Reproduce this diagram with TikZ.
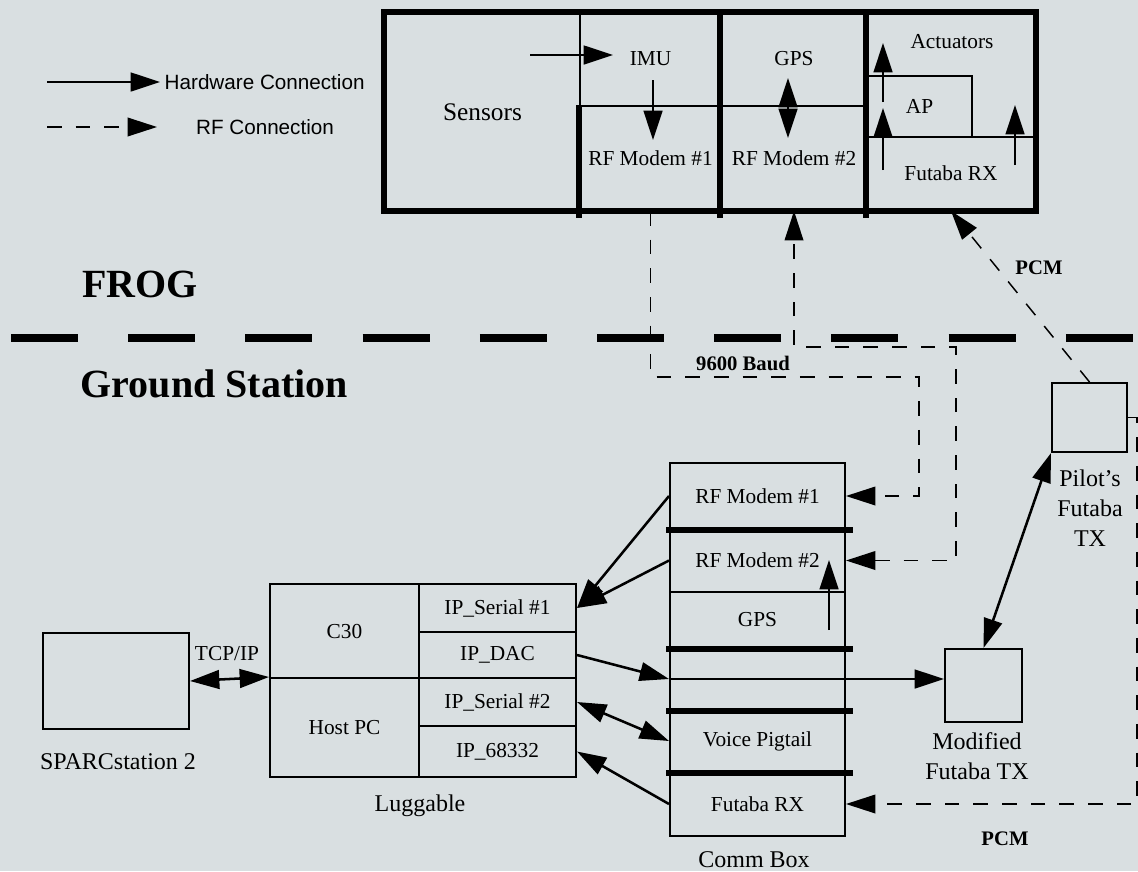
\documentclass[tikz,border=0pt]{standalone}
\usepackage{fontspec}
\setmainfont{Liberation Serif}
\newfontfamily\legendfont{Liberation Sans}
\usetikzlibrary{arrows.meta, calc, positioning}

\definecolor{paper}{RGB}{217,223,225}

\begin{document}
\begin{tikzpicture}[x=0.75pt, y=-0.75pt, font=\fontsize{16}{22.5}\selectfont,
  >={Triangle[length=22pt,width=14pt]},
  cell/.style 2 args={draw, line width=1.5pt, inner sep=0pt, minimum width=#1*0.75pt, minimum height=#2*0.75pt},
  wall/.style={line width=3.8pt},
  bar/.style={line width=4.5pt},
  hw/.style={->, line width=1.9pt},
  rf/.style={->, line width=1.1pt, dash pattern=on 11pt off 10.5pt},
  title/.style={font=\fontsize{30}{36}\selectfont\bfseries},
  tag/.style={font=\fontsize{15.5}{18}\selectfont\bfseries},
  caption/.style={font=\fontsize{18}{22.5}\selectfont, align=center},
  legend/.style={font=\legendfont\fontsize{15.5}{18}\selectfont}]
\fill[paper] (0,0) rectangle (1138,871);
\useasboundingbox (0,0) rectangle (1138,871);
%legend
\coordinate (lg1) at (47,82);
\coordinate (lg3) at (47,127);
\coordinate (lg4) at (157,127);
\node[legend, anchor=west] (lghw) at (160,82) {Hardware Connection};
\node[legend] (lgrf) at (265,127) {RF Connection};
\draw[hw] (lg1) -- (lghw.west);
\draw[rf] (lg3) -- (lg4);
% FROG
\node[cell={195}{198}, font=\fontsize{19}{22}\selectfont] (sensors) at (482.5,112) {Sensors};
\node[cell={141}{94}] (imu) at (650.5,59) {IMU};
\node[cell={141}{104}] (rfa) at (650.5,158) {RF Modem \#1};
\node[cell={146}{94}] (gps) at (794,59) {GPS};
\node[cell={146}{104}] (rfb) at (794,158) {RF Modem \#2};
\node[cell={168}{198}] (act) at (951,111) {};
\node (acttxt) at (952,42) {Actuators};
\node[cell={105}{61}] (ap) at (919.5,106.5) {AP};
\node[cell={168}{73}] (frx) at (951,173.5) {Futaba RX};
\draw[wall] (sensors.north west) rectangle (act.south east);
\draw[wall] (rfa.north west) -- ($(rfa.south west)+(0,7)$);
\draw[wall] (gps.north west) -- ($(rfb.south west)+(0,7)$);
\draw[wall] (act.north west) -- ($(act.south west)+(0,7)$);
\coordinate (s1) at (530,55); \coordinate (s2) at (613,55);
\coordinate (i1) at (653,80); \coordinate (i2) at (653,140);
\coordinate (g1) at (788,78); \coordinate (g2) at (788,138);
\coordinate (a1) at (883,102); \coordinate (a2) at (883,43);
\coordinate (a3) at (883,170); \coordinate (a4) at (883,108);
\coordinate (a5) at (1015,165); \coordinate (a6) at (1015,105);
\draw[hw] (s1) -- (s2);
\draw[hw] (i1) -- (i2);
\draw[hw, <->] (g1) -- (g2);
\draw[hw] (a1) -- (a2);
\draw[hw] (a3) -- (a4);
\draw[hw] (a5) -- (a6);
\node[title] (frog) at (140,284) {FROG};
\draw[line width=6pt, dash pattern=on 50.25pt off 37.65pt] (11,338) -- (1138,338);
\node[title, anchor=west] (ground) at (76,384) {Ground Station};
% ground station
\node[cell={146}{96}] (sparc) at (116,681) {};
\node[caption] (sparctxt) at (118,762) {SPARCstation 2};
\node[cell={149}{94}] (c30) at (344.5,631) {C30};
\node[cell={149}{99}] (hostpc) at (344.5,727.5) {Host PC};
\node[cell={157}{48}] (ips1) at (497.5,608) {IP\_Serial \#1};
\node[cell={157}{46}] (ipd) at (497.5,655) {IP\_DAC};
\node[cell={157}{48}] (ips2) at (497.5,702) {IP\_Serial \#2};
\node[cell={157}{51}] (ip68) at (497.5,751.5) {IP\_68332};
\node[caption] (lugtxt) at (420,806) {Luggable};
\node[cell={175}{66}] (cma) at (757.5,496) {RF Modem \#1};
\node[cell={175}{63}] (cmb) at (757.5,560.5) {RF Modem \#2};
\node[cell={175}{56}] (cmg) at (757.5,620) {GPS};
\node[cell={175}{62}] (cmd) at (757.5,679) {};
\node[cell={175}{62}] (cmv) at (757.5,741) {Voice Pigtail};
\node[cell={175}{64}] (cmf) at (757.5,804) {Futaba RX};
\foreach \c in {cma,cmg,cmd,cmv}
\draw[bar] ($(\c.south west)+(-3,0)$) -- ($(\c.south east)+(7,0)$);
\node[caption] (cmtxt) at (754,860) {Comm Box};
\node[cell={77}{73}] (mod) at (983.5,685.5) {};
\node[caption] (modtxt) at (977,756) {Modified\\Futaba TX};
\node[cell={75}{69}] (pilot) at (1089.5,417.5) {};
\node[caption] (pilottxt) at (1090,508) {Pilot's\\Futaba\\TX};
\coordinate (c1) at (829,630); \coordinate (c2) at (829,560);
\draw[hw] (c1) -- (c2);
% connections
\draw[hw, <->] (sparc.east) -- (hostpc.north west);
\node (tcp) at (227,654) {TCP/IP};
\draw[hw] (cma.west) -- (ips1.east);
\draw[hw] (cmb.west) -- (ips1.east);
\draw[hw] (ipd.east) -- (cmd.west);
\draw[hw] (cmd.west) -- (cmd.west -| mod.west);
\draw[hw, <->] (ips2.east) -- (cmv.west);
\draw[hw] (cmf.west) -- (ip68.east);
\draw[hw, <->] (mod.north) -- (pilot.south west);
% rf links
\coordinate (k1) at (919,377);
\coordinate (k2) at (956,347);
\draw[rf] (rfa.south) |- (k1) |- (cma.east);
\draw[rf, <->] (cmb.east) -| (k2) -| (rfb.south);
\node[tag] (baud) at (743,363) {9600 Baud};
\draw[rf] (pilot.north) -- (frx.south);
\node[tag] (pcmtop) at (1039,268) {PCM};
\draw[rf] (pilot.east) -- ++(9,0) |- (cmf.east);
\node[tag] (pcmbot) at (1005,839) {PCM};
\end{tikzpicture}
\end{document}
